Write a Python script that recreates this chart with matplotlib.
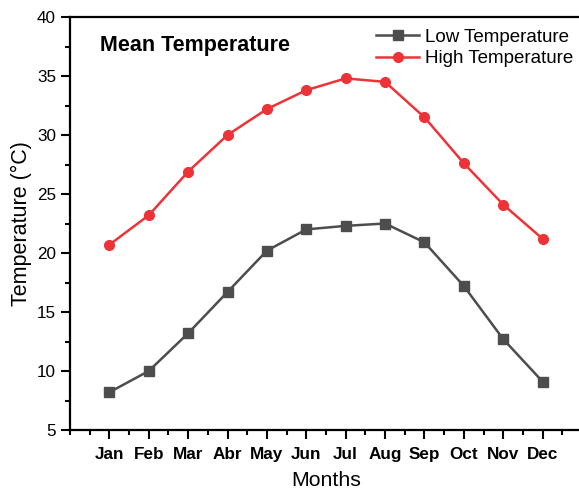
import matplotlib
matplotlib.use("Agg")
import matplotlib.pyplot as plt
from matplotlib.ticker import MultipleLocator

plt.rcParams['font.family'] = ['Liberation Sans', 'DejaVu Sans']

months = ["Jan", "Feb", "Mar", "Abr", "May", "Jun", "Jul", "Aug", "Sep", "Oct", "Nov", "Dec"]
low_temp = [8.2, 10.0, 13.2, 16.7, 20.2, 22.0, 22.3, 22.5, 20.9, 17.2, 12.7, 9.1]
high_temp = [20.7, 23.2, 26.9, 30.0, 32.2, 33.8, 34.8, 34.5, 31.5, 27.6, 24.1, 21.2]

fig = plt.figure(figsize=(5.79, 4.94), dpi=100)
ax = fig.add_axes([70/579, 1 - 430/494, (582 - 70)/579, (430 - 17)/494])

x = list(range(1, len(months) + 1))
ax.plot(x, low_temp, color="#4d4d4d", marker="s", markersize=6.5, linewidth=1.8,
        label="Low Temperature")
ax.plot(x, high_temp, color="#ee3338", marker="o", markersize=7, linewidth=1.8,
        label="High Temperature")

ax.set_xlim(0, 13)
ax.set_ylim(5, 40)
ax.set_xticks(x)
ax.set_xticklabels(months, fontsize=12.3, fontweight="bold")
ax.xaxis.set_minor_locator(MultipleLocator(0.5))
ax.yaxis.set_major_locator(MultipleLocator(5))
ax.yaxis.set_minor_locator(MultipleLocator(2.5))
ax.tick_params(axis="both", which="major", direction="out", length=6.5, width=1.5, labelsize=12.3)
ax.tick_params(axis="both", which="minor", direction="out", length=3.5, width=1.5)
ax.tick_params(axis="x", pad=6)
for s in ax.spines.values():
    s.set_linewidth(1.6)

ax.set_xlabel("Months", fontsize=15.3, labelpad=6)
ax.set_ylabel("Temperature (°C)", fontsize=15.5, labelpad=4)

ax.text(30/512, 1 - 29/413, "Mean Temperature", transform=ax.transAxes, fontsize=15.5,
        fontweight="bold", va="center", ha="left")

ax.legend(loc="upper right", bbox_to_anchor=(1.003, 0.997), frameon=False, fontsize=13.5,
          handlelength=2.3, handletextpad=0.3, labelspacing=0.25, borderaxespad=0.15)

fig.savefig("out.png", dpi=100)
